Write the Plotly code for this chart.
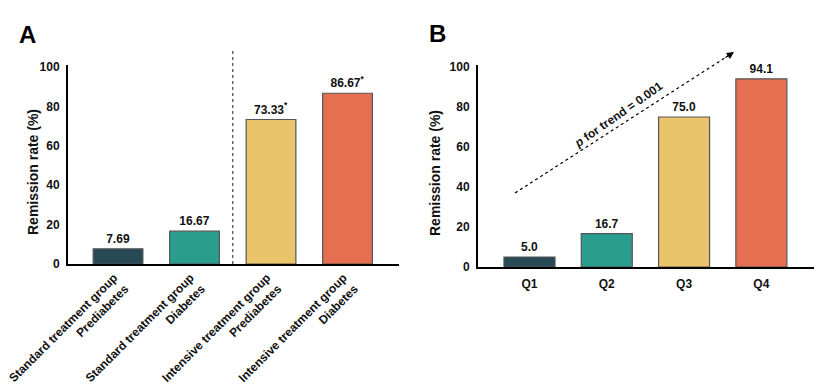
import plotly.graph_objects as go

W, H = 832, 388
FONT = "Liberation Sans, Arial, sans-serif"

# ---- data ----
a_categories = ["Standard treatment group<br>Prediabetes",
                "Standard treatment group<br>Diabetes",
                "Intensive treatment group<br>Prediabetes",
                "Intensive treatment group<br>Diabetes"]
a_values = [7.69, 16.67, 73.33, 86.67]
a_marks = ["", "", "*", "*"]

b_categories = ["Q1", "Q2", "Q3", "Q4"]
b_values = [5.0, 16.7, 75.0, 94.1]

colors = ["#264b57", "#2a9d8f", "#e9c46a", "#e76f51"]
y_ticks = [0, 20, 40, 60, 80, 100]
y_title = "Remission rate (%)"
trend_text = "<i>p</i> for trend = 0.001"


def px_x(p):
    return p / W


def px_y(p):
    return (H - p) / H


def bold(size, color="#111"):
    return dict(family=FONT, size=size, color=color, weight="bold")


fig = go.Figure()

fig.add_trace(go.Bar(
    x=a_categories, y=a_values,
    text=[f"{v:.2f}" + (f"<sup>{m}</sup>" if m else "") for v, m in zip(a_values, a_marks)],
    textposition="outside", cliponaxis=False,
    textfont=bold(12),
    marker=dict(color=colors, line=dict(color="#555555", width=1.2)),
    width=0.65, xaxis="x", yaxis="y", showlegend=False, hoverinfo="skip"))

fig.add_trace(go.Bar(
    x=b_categories, y=b_values,
    text=[f"{v:.1f}" for v in b_values],
    textposition="outside", cliponaxis=False,
    textfont=bold(12),
    marker=dict(color=colors, line=dict(color="#555555", width=1.2)),
    width=0.66, xaxis="x2", yaxis="y2", showlegend=False, hoverinfo="skip"))

axis_common = dict(showline=True, linecolor="black", linewidth=2, ticks="",
                   showgrid=False, zeroline=False, automargin=False,
                   tickfont=bold(12))

fig.update_layout(
    template="none",
    width=W, height=H, margin=dict(l=0, r=0, t=0, b=0, autoexpand=False),
    paper_bgcolor="white", plot_bgcolor="white",
    font=dict(family=FONT, color="#111"),
    xaxis=dict(domain=[px_x(68), px_x(399)], range=[-0.654, 3.673],
               tickangle=-45, anchor="y", ticklabelshift=-4, **axis_common),
    yaxis=dict(domain=[px_y(264), px_y(65)], range=[0, 101], tickvals=y_ticks,
               anchor="x", ticklabelstandoff=4, **axis_common),
    xaxis2=dict(domain=[px_x(478), px_x(814)], range=[-0.666, 3.681],
                anchor="y2", ticklabelstandoff=5, **axis_common),
    yaxis2=dict(domain=[px_y(267), px_y(65)], range=[0, 101], tickvals=y_ticks,
                anchor="x2", ticklabelstandoff=4, **axis_common),
)

# separator line in panel A
fig.add_shape(type="line", xref="x", yref="paper", x0=1.5, x1=1.5,
              y0=px_y(264), y1=px_y(49),
              line=dict(color="#444", width=1.2, dash="dot"))

# trend arrow in panel B
tail = (515, 193)
head = (734, 52)
fig.add_shape(type="line", xref="paper", yref="paper",
              x0=px_x(tail[0]), y0=px_y(tail[1]), x1=px_x(head[0] - 4), y1=px_y(head[1] + 2.6),
              line=dict(color="black", width=1.2, dash="dot"))
fig.add_annotation(x=px_x(head[0]), y=px_y(head[1]), xref="paper", yref="paper",
                   ax=-10, ay=6.5, text="", showarrow=True, arrowhead=2,
                   arrowsize=1.1, arrowwidth=1.3, arrowcolor="black", standoff=0)
fig.add_annotation(x=px_x(618), y=px_y(115), xref="paper", yref="paper",
                   xanchor="center", yanchor="middle",
                   text=trend_text, showarrow=False, textangle=-35,
                   font=bold(12))

# axis titles
for cx, cy in [(33, 172), (435, 173)]:
    fig.add_annotation(x=px_x(cx), y=px_y(cy), xref="paper", yref="paper",
                       xanchor="center", yanchor="middle",
                       text=y_title, showarrow=False, textangle=-90,
                       font=bold(14))

# panel letters
for letter, cx, cy in [("A", 27, 34), ("B", 437, 33)]:
    fig.add_annotation(x=px_x(cx), y=px_y(cy), xref="paper", yref="paper",
                       xanchor="center", yanchor="middle",
                       text=letter, showarrow=False,
                       font=bold(24, "black"))

fig.write_html("out.html", config={"displayModeBar": False},
               post_script="document.body.style.margin='0';document.body.style.overflow='hidden';")
